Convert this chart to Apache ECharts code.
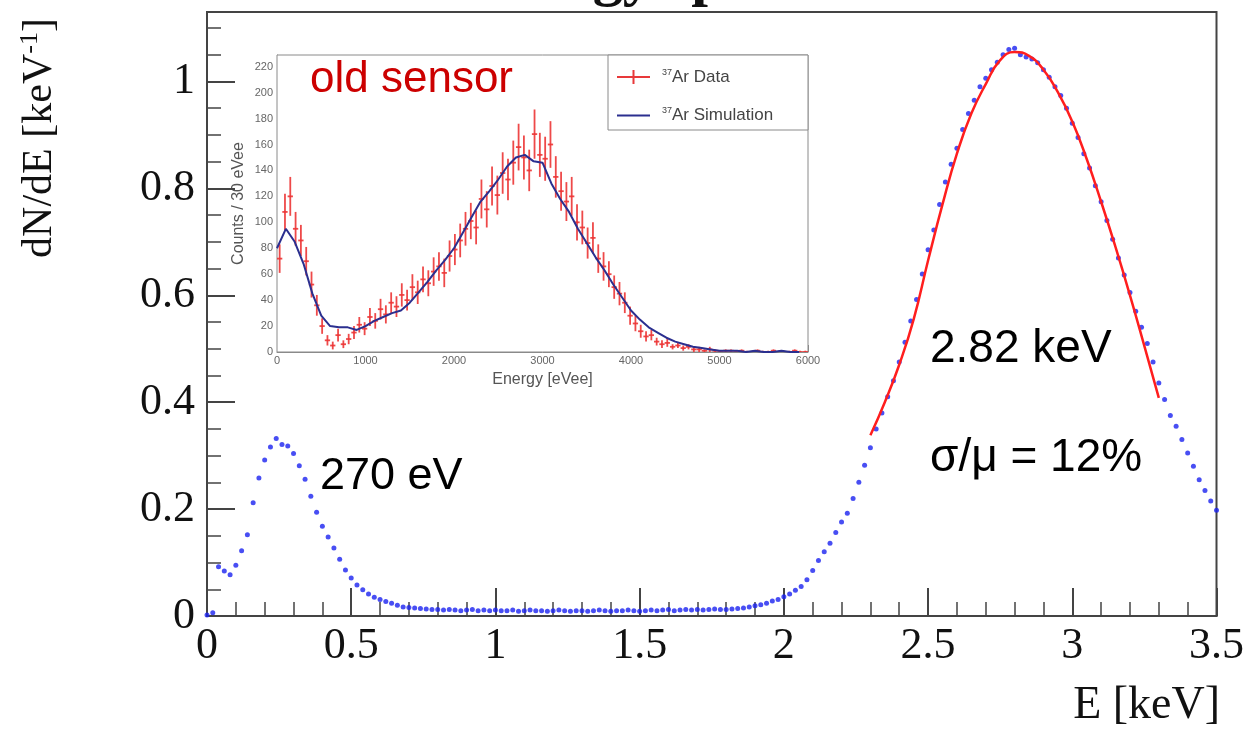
<!DOCTYPE html>
<html>
<head>
<meta charset="utf-8">
<script src="https://cdn.jsdelivr.net/npm/echarts@6/dist/echarts.min.js"></script>
<style>
  html, body { margin: 0; padding: 0; background: #fff; }
  #chart { width: 1247px; height: 733px; }
</style>
</head>
<body>
<div id="chart"></div>
<script>
// main spectrum, bins of 0.02 keV starting at 0
var mainStart = 0, mainStep = 0.02;
var mainValues = [
  0.002, 0.006, 0.092, 0.084, 0.077, 0.095, 0.122, 0.152, 0.212, 0.258,
  0.292, 0.316, 0.332, 0.321, 0.318, 0.304, 0.281, 0.256, 0.224, 0.194,
  0.168, 0.148, 0.127, 0.106, 0.086, 0.071, 0.058, 0.049, 0.041, 0.035,
  0.031, 0.027, 0.024, 0.020, 0.017, 0.016, 0.015, 0.014, 0.013, 0.012,
  0.012, 0.011, 0.012, 0.011, 0.010, 0.011, 0.012, 0.010, 0.011, 0.010,
  0.011, 0.010, 0.010, 0.011, 0.009, 0.010, 0.011, 0.010, 0.010, 0.009,
  0.010, 0.011, 0.010, 0.009, 0.010, 0.010, 0.009, 0.010, 0.011, 0.010,
  0.009, 0.010, 0.010, 0.011, 0.010, 0.009, 0.010, 0.011, 0.010, 0.011,
  0.012, 0.010, 0.011, 0.012, 0.011, 0.012, 0.011, 0.012, 0.013, 0.012,
  0.012, 0.013, 0.014, 0.015, 0.017, 0.019, 0.021, 0.024, 0.028, 0.031,
  0.036, 0.041, 0.048, 0.055, 0.068, 0.085, 0.104, 0.120, 0.136, 0.156,
  0.176, 0.192, 0.220, 0.250, 0.282, 0.315, 0.350, 0.380, 0.410, 0.440,
  0.475, 0.512, 0.552, 0.592, 0.640, 0.685, 0.722, 0.770, 0.812, 0.845,
  0.875, 0.910, 0.940, 0.965, 0.990, 1.006, 1.022, 1.036, 1.050, 1.060,
  1.062, 1.050, 1.046, 1.042, 1.035, 1.022, 1.008, 0.990, 0.974, 0.950,
  0.922, 0.895, 0.865, 0.838, 0.805, 0.775, 0.740, 0.705, 0.670, 0.638,
  0.605, 0.570, 0.540, 0.510, 0.475, 0.436, 0.405, 0.375, 0.355, 0.330,
  0.305, 0.280, 0.255, 0.235, 0.215, 0.198
];

// fitted peak, 2.30 .. 3.30 keV every 0.05
var fitStart = 2.30, fitStep = 0.05;
var fitValues = [
  0.338, 0.400, 0.470, 0.555, 0.665, 0.770, 0.865, 0.940, 0.995, 1.040,
  1.055, 1.048, 1.022, 0.980, 0.925, 0.855, 0.775, 0.690, 0.600, 0.505,
  0.408
];

// inset: 37Ar data, bins every 60 eVee starting at 30
var dataStart = 30, dataStep = 60;
var dataCounts = [
  72, 108, 120, 95, 86, 70, 52, 36, 20, 9,
  5, 13, 6, 10, 15, 21, 18, 27, 24, 33,
  29, 38, 35, 44, 40, 50, 46, 56, 53, 62,
  66, 61, 74, 79, 86, 95, 101, 96, 118, 110,
  128, 121, 138, 133, 146, 158, 150, 140, 168, 152,
  149, 160, 135, 124, 116, 120, 100, 96, 84, 88,
  72, 66, 60, 50, 45, 38, 28, 22, 16, 12,
  13, 8, 6, 7, 4, 5, 3, 4, 2, 2,
  1, 2, 1, 0, 1, 1, 0, 1, 0, 0,
  1, 0, 0, 1, 0, 0, 0, 1, 0, 0
];
var dataErrors = [
  11, 14, 15, 13, 12, 11, 10, 8, 6, 4,
  3, 5, 3, 4, 5, 6, 5, 7, 6, 8,
  7, 8, 8, 9, 8, 10, 9, 10, 10, 11,
  11, 11, 12, 12, 13, 13, 14, 13, 15, 14,
  15, 15, 16, 16, 17, 18, 17, 16, 19, 17,
  17, 18, 16, 15, 15, 15, 14, 13, 12, 12,
  11, 11, 10, 9, 9, 8, 7, 6, 5, 4,
  4, 3, 3, 3, 2, 2, 2, 2, 2, 2,
  1, 2, 1, 1, 1, 1, 1, 1, 1, 1,
  1, 1, 1, 1, 1, 1, 1, 1, 1, 1
];

// inset: 37Ar simulation, every 100 eVee
var simStart = 0, simStep = 100;
var simCounts = [
  80, 95, 85, 68, 45, 28, 20, 19, 19, 17,
  20, 24, 27, 30, 32, 38, 46, 54, 63, 71,
  80, 92, 104, 116, 124, 133, 143, 150, 152, 147,
  146, 130, 118, 108, 95, 84, 73, 63, 52, 42,
  32, 25, 19, 15, 11, 8, 6, 4, 3, 2,
  1, 1, 1, 0, 1, 0, 0, 1, 0, 0
];

function toPairs(start, step, vals) {
  var out = [];
  for (var i = 0; i < vals.length; i++) {
    out.push([+(start + i * step).toFixed(4), vals[i]]);
  }
  return out;
}

var mainData = toPairs(mainStart, mainStep, mainValues);
var fitData = toPairs(fitStart, fitStep, fitValues);
var simData = toPairs(simStart, simStep, simCounts);
var arData = [];
for (var i = 0; i < dataCounts.length; i++) {
  arData.push([dataStart + i * dataStep, dataCounts[i], dataErrors[i]]);
}

var serif = 'Liberation Serif';
var sans = 'Liberation Sans';
var frameColor = '#444';
var insetColor = '#8a8a8a';

var myChart = echarts.init(document.getElementById('chart'));

var option = {
  animation: false,
  backgroundColor: '#fff',
  grid: [
    { left: 207, top: 12, width: 1010, height: 604, show: true, borderColor: frameColor, borderWidth: 2 },
    { left: 277, top: 55, width: 531, height: 297, show: true, backgroundColor: '#fff', borderColor: insetColor, borderWidth: 1, z: 5 }
  ],
  legend: {
    left: 617, top: 68,
    orient: 'vertical',
    itemWidth: 40, itemHeight: 14,
    itemGap: 21,
    padding: 0,
    z: 10,
    data: [
      { name: '37Ar Data', icon: 'path://M0,0 M40,14 M0,6h33v2h-33z M15.5,0h2v14h-2z', itemStyle: { color: '#e8393a' } },
      { name: '37Ar Simulation', icon: 'path://M0,0 M40,14 M0,6h33v2h-33z', itemStyle: { color: '#2b2f8f' } }
    ],
    formatter: function (name) {
      return '{s|37}{t|' + name.slice(2) + '}';
    },
    textStyle: {
      rich: {
        s: { fontSize: 9, fontFamily: sans, color: '#444', verticalAlign: 'top', lineHeight: 10 },
        t: { fontSize: 17, fontFamily: sans, color: '#444', lineHeight: 18 }
      }
    }
  },
  xAxis: [
    {
      type: 'value', gridIndex: 0, min: 0, max: 3.5, interval: 0.5,
      axisLine: { show: true, lineStyle: { color: frameColor, width: 2 } },
      axisTick: { show: true, inside: true, length: 28, lineStyle: { color: frameColor, width: 2 } },
      minorTick: { show: true, splitNumber: 5, length: 14, lineStyle: { color: frameColor, width: 1.5 } },
      splitLine: { show: false },
      axisLabel: { fontFamily: serif, fontSize: 44, color: '#111', margin: 8 }
    },
    {
      type: 'value', gridIndex: 1, min: 0, max: 6000, interval: 1000,
      axisLine: { show: true, lineStyle: { color: insetColor, width: 1 } },
      axisTick: { show: true, inside: true, length: 7, lineStyle: { color: insetColor } },
      minorTick: { show: true, splitNumber: 5, length: 4, lineStyle: { color: insetColor } },
      splitLine: { show: false },
      axisLabel: { fontFamily: sans, fontSize: 11, color: '#666', margin: 3, formatter: function (v) { return String(v); } },
      name: 'Energy [eVee]', nameLocation: 'middle', nameGap: 20,
      nameTextStyle: { fontFamily: sans, fontSize: 16, color: '#555' }
    }
  ],
  yAxis: [
    {
      type: 'value', gridIndex: 0, position: 'left', min: 0, max: 1.13, interval: 0.2,
      axisLine: { show: true, lineStyle: { color: frameColor, width: 2 } },
      axisTick: { show: true, inside: true, length: 28, lineStyle: { color: frameColor, width: 2 } },
      splitLine: { show: false },
      axisLabel: { fontFamily: serif, fontSize: 44, color: '#111', margin: 12, showMaxLabel: false }
    },
    {
      type: 'value', gridIndex: 1, min: 0, max: 229, interval: 20,
      axisLine: { show: true, lineStyle: { color: insetColor, width: 1 } },
      axisTick: { show: true, inside: true, length: 14, lineStyle: { color: insetColor } },
      minorTick: { show: true, splitNumber: 4, length: 7, lineStyle: { color: insetColor } },
      splitLine: { show: false },
      axisLabel: { fontFamily: sans, fontSize: 11, color: '#666', margin: 4, showMaxLabel: false },
      name: 'Counts / 30 eVee', nameLocation: 'middle', nameGap: 30,
      nameTextStyle: { fontFamily: sans, fontSize: 16, color: '#555' }
    },
    {
      // minor ticks of the main y axis, every 0.05
      type: 'value', gridIndex: 0, position: 'left', offset: 0, min: 0, max: 1.13, interval: 0.05,
      axisLine: { show: false },
      axisTick: { show: true, inside: true, length: 14, lineStyle: { color: frameColor, width: 1.5 } },
      splitLine: { show: false },
      axisLabel: { show: false }
    }
  ],
  series: [
    {
      name: 'spectrum', type: 'scatter', xAxisIndex: 0, yAxisIndex: 0,
      symbol: 'circle', symbolSize: 5,
      itemStyle: { color: '#1a22f0' },
      data: mainData, z: 2
    },
    {
      name: 'fit', type: 'line', xAxisIndex: 0, yAxisIndex: 0,
      smooth: true, showSymbol: false, symbol: 'none',
      lineStyle: { color: '#ff1e1e', width: 2.5 },
      data: fitData, z: 3
    },
    {
      name: '37Ar Data', type: 'custom', xAxisIndex: 1, yAxisIndex: 1,
      itemStyle: { color: '#e8393a' },
      encode: { x: 0, y: 1 },
      clip: true, z: 6,
      renderItem: function (params, api) {
        var x = api.value(0), y = api.value(1), e = api.value(2);
        var top = api.coord([x, y + e]);
        var bot = api.coord([x, Math.max(y - e, 0)]);
        var l = api.coord([x - 30, y]);
        var r = api.coord([x + 30, y]);
        var st = { stroke: '#ec3535', lineWidth: 1.8, opacity: 0.9 };
        return {
          type: 'group',
          children: [
            { type: 'line', shape: { x1: top[0], y1: top[1], x2: bot[0], y2: bot[1] }, style: st },
            { type: 'line', shape: { x1: l[0], y1: l[1], x2: r[0], y2: r[1] }, style: st }
          ]
        };
      },
      data: arData
    },
    {
      name: '37Ar Simulation', type: 'line', xAxisIndex: 1, yAxisIndex: 1,
      showSymbol: false, symbol: 'none',
      lineStyle: { color: '#2b2f8f', width: 2 },
      itemStyle: { color: '#2b2f8f' },
      data: simData, z: 7
    }
  ],
  graphic: [
    {
      type: 'text', z: 0,
      style: { x: 687, y: -22, text: 'Energy spectrum', font: 'bold 60px "Liberation Serif"', fill: '#111', align: 'center', verticalAlign: 'middle' }
    },
    {
      type: 'text', rotation: Math.PI / 2, x: 40, y: 138,
      style: {
        text: '{a|dN/dE [keV}{b|-1}{a|]}', align: 'center', verticalAlign: 'middle', fill: '#111',
        rich: {
          a: { fontFamily: serif, fontSize: 42, lineHeight: 46, fill: '#111' },
          b: { fontFamily: serif, fontSize: 26, lineHeight: 26, verticalAlign: 'top', fill: '#111' }
        }
      }
    },
    {
      type: 'text',
      style: { x: 1220, y: 706, text: 'E [keV]', font: '46px "Liberation Serif"', fill: '#111', align: 'right', verticalAlign: 'middle' }
    },
    {
      type: 'rect', z: 9,
      shape: { x: 608, y: 55, width: 200, height: 75 },
      style: { fill: '#fff', stroke: insetColor, lineWidth: 1 }
    },
    {
      type: 'text', z: 10,
      style: { x: 310, y: 80, text: 'old sensor', font: '44px "Liberation Sans"', fill: '#cc0000', align: 'left', verticalAlign: 'middle' }
    },
    {
      type: 'text',
      style: { x: 320, y: 477, text: '270 eV', font: '45px "Liberation Sans"', fill: '#000', align: 'left', verticalAlign: 'middle' }
    },
    {
      type: 'text',
      style: { x: 930, y: 349, text: '2.82 keV', font: '46px "Liberation Sans"', fill: '#000', align: 'left', verticalAlign: 'middle' }
    },
    {
      type: 'text',
      style: { x: 930, y: 458, text: 'σ/μ = 12%', font: '46px "Liberation Sans"', fill: '#000', align: 'left', verticalAlign: 'middle' }
    }
  ]
};

myChart.setOption(option);
</script>
</body>
</html>
